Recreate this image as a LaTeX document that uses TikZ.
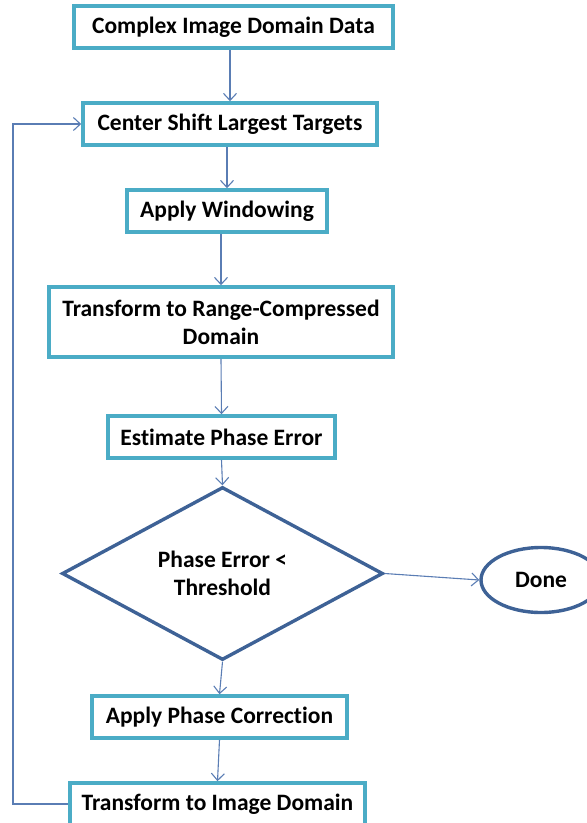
\documentclass[tikz,border=0pt]{standalone}
\usepackage{fontspec}
\setmainfont{Carlito}[Ligatures=NoCommon]
\usepackage{tikz}
\usetikzlibrary{shapes.geometric,arrows.meta}
\definecolor{boxline}{HTML}{4BACC6}
\definecolor{decline}{HTML}{3E6296}
\definecolor{arrline}{HTML}{5A7DB4}
\newcommand{\stepnode}[5]{\node[procbox,minimum width=#3pt] (#1) at (#2,#4) {#5};}

\begin{document}
\begin{tikzpicture}[x=1pt,y=-1pt,
  procbox/.style={draw=boxline,line width=3.6pt,fill=white,minimum height=42pt,
    align=center,inner sep=2pt,font=\bfseries\fontsize{23.5}{28}\selectfont},
  decbox/.style={draw=decline,line width=3.4pt,diamond,aspect=1.86,minimum width=321pt,
    minimum height=173pt,align=center,inner sep=0pt,font=\bfseries\fontsize{23.5}{28}\selectfont},
  endbox/.style={draw=decline,line width=3.4pt,ellipse,minimum width=120pt,minimum height=65pt,
    font=\bfseries\fontsize{23.5}{28}\selectfont},
  arr/.style={draw=arrline,line width=1.1pt,-{Straight Barb[length=7pt,width=13pt]}}]
\useasboundingbox (0,0) rectangle (587,823);

\stepnode{cplx}{233.5}{319}{27}{Complex Image Domain Data}
\stepnode{shift}{230}{294}{124}{Center Shift Largest Targets}
\stepnode{wind}{227}{200}{211}{Apply Windowing}
\node[procbox,minimum width=344pt,minimum height=70pt] (rcd) at (221,322)
  {Transform to Range-Compressed\\Domain};
\stepnode{est}{221.5}{227}{437}{Estimate Phase Error}
\node[decbox] (thr) at (222.5,573.5) {Phase Error \textless\\Threshold};
\node[endbox] (done) at (541,580) {Done};
\stepnode{corr}{219.5}{255}{717}{Apply Phase Correction}
\stepnode{back}{217.5}{295}{804}{Transform to Image Domain}

\coordinate (lp) at (13,124);

\draw[arr] (cplx.south -| shift.north) -- (shift.north);
\draw[arr] (shift.south -| wind.north) -- (wind.north);
\draw[arr] (wind.south -| rcd.north) -- (rcd.north);
\draw[arr] (rcd.south) -- (est.north);
\draw[arr] (est.south) -- (thr.north);
\draw[arr] (thr.east) -- (done.west);
\draw[arr] (thr.south) -- (corr.north);
\draw[arr] (corr.south) -- (back.north);
\draw[arr] (back.west) -| (lp) -- (shift.west);
\end{tikzpicture}
\end{document}
